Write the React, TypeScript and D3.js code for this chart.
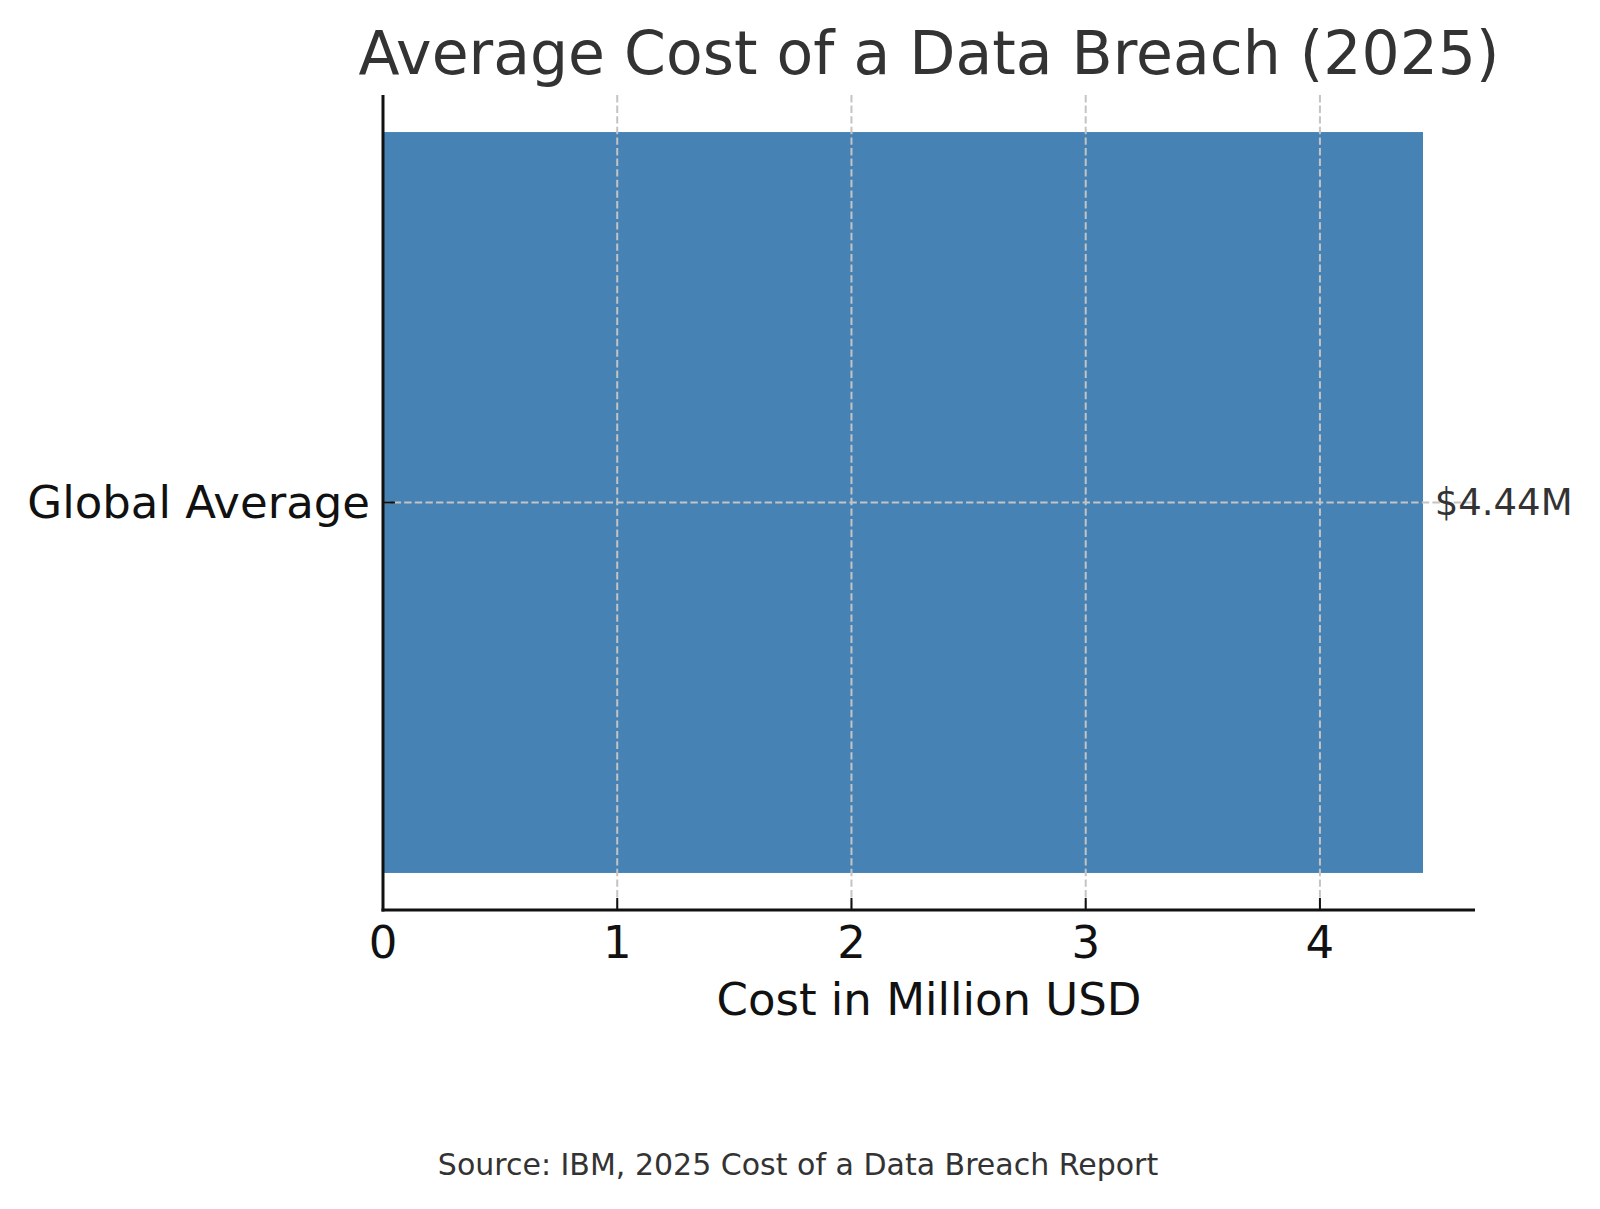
import * as d3 from 'd3';

const categories: string[] = ['Global Average'];
const costs: number[] = [4.44];
const xTicks: number[] = [0, 1, 2, 3, 4];
const valueLabels: string[] = ['$4.44M'];

const title = 'Average Cost of a Data Breach (2025)';
const xLabel = 'Cost in Million USD';
const source = 'Source: IBM, 2025 Cost of a Data Breach Report';

const W = 1600;
const H = 1209;
const margin = { left: 383, right: 125, top: 95, bottom: 299 };
const font = '"DejaVu Sans", sans-serif';

const App = () => {
  const plotW = W - margin.left - margin.right;
  const plotH = H - margin.top - margin.bottom;

  // matplotlib-style 5% margin on the right, bars stick to 0
  const xMax = (d3.max(costs) || 0) * 1.05;
  const x = d3.scaleLinear().domain([0, xMax]).range([0, plotW]);

  const barH = 0.8;
  const n = categories.length;
  const y = d3
    .scaleLinear()
    .domain([n - 1 + barH / 2 + 0.04, -barH / 2 - 0.04])
    .range([plotH, 0]);

  const gridColor = '#c4c4c4';

  return (
    <div style={{ position: 'absolute', left: 0, top: 0 }}>
      <svg width={W} height={H} style={{ display: 'block', background: '#fff' }}>
        <text
          x={margin.left + plotW / 2}
          y={74}
          textAnchor="middle"
          fontFamily={font}
          fontSize={60}
          fill="#333"
        >
          {title}
        </text>

        <g transform={`translate(${margin.left},${margin.top})`}>
          {categories.map((c, i) => (
            <rect
              key={c}
              x={x(0)}
              y={y(i - barH / 2)}
              width={x(costs[i]) - x(0)}
              height={y(i + barH / 2) - y(i - barH / 2)}
              fill="#4682b4"
            />
          ))}

          {/* grid drawn over the bars */}
          {xTicks.map((t) => (
            <line
              key={`gx${t}`}
              x1={x(t)}
              x2={x(t)}
              y1={0}
              y2={plotH}
              stroke={gridColor}
              strokeWidth={2}
              strokeDasharray="7.4 3.2"
            />
          ))}
          {categories.map((c, i) => (
            <line
              key={`gy${c}`}
              x1={0}
              x2={plotW}
              y1={y(i)}
              y2={y(i)}
              stroke={gridColor}
              strokeWidth={2}
              strokeDasharray="7.4 3.2"
            />
          ))}

          {categories.map((c, i) => (
            <text
              key={`v${c}`}
              x={x(costs[i] + 0.05)}
              y={y(i)}
              dy="0.35em"
              fontFamily={font}
              fontSize={37}
              fill="#333"
            >
              {valueLabels[i]}
            </text>
          ))}

          {/* spines */}
          <line x1={0} x2={0} y1={0} y2={plotH + 1.5} stroke="#111" strokeWidth={3} />
          <line x1={-1.5} x2={plotW} y1={plotH} y2={plotH} stroke="#111" strokeWidth={3} />

          {/* x ticks, pointing inward */}
          {xTicks.map((t) => (
            <g key={`tx${t}`} transform={`translate(${x(t)},${plotH})`}>
              <line y1={0} y2={-12} stroke="#111" strokeWidth={2} />
              <text
                y={48}
                textAnchor="middle"
                fontFamily={font}
                fontSize={45}
                fill="#111"
              >
                {t}
              </text>
            </g>
          ))}

          {/* y ticks, pointing inward */}
          {categories.map((c, i) => (
            <g key={`ty${c}`} transform={`translate(0,${y(i)})`}>
              <line x1={0} x2={12} stroke="#111" strokeWidth={2} />
              <text
                x={-13}
                dy="0.35em"
                textAnchor="end"
                fontFamily={font}
                fontSize={45}
                fill="#111"
              >
                {c}
              </text>
            </g>
          ))}

          <text
            x={plotW / 2}
            y={plotH + 105}
            textAnchor="middle"
            fontFamily={font}
            fontSize={45}
            fill="#111"
          >
            {xLabel}
          </text>
        </g>

        <text x={W / 2 - 2} y={1175} textAnchor="middle" fontFamily={font} fontSize={30} fill="#333">
          {source}
        </text>
      </svg>
    </div>
  );
};

export default App;
